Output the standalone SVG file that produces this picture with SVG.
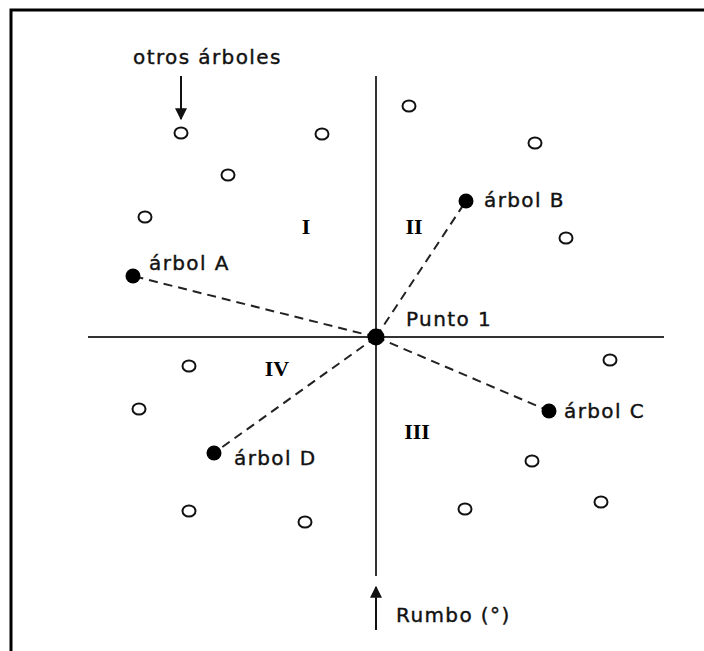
<svg xmlns="http://www.w3.org/2000/svg" width="704" height="651" viewBox="0 0 704 651">
<defs>
<style>
.lbl{font-family:"DejaVu Sans","Liberation Sans",sans-serif;font-size:20px;letter-spacing:1.4px;fill:#111;stroke:#111;stroke-width:0.4}
.rom{font-family:"Liberation Serif","DejaVu Serif",serif;font-size:22px;font-weight:bold;fill:#000}
.axis{stroke:#333;stroke-width:2;fill:none}
.dash{stroke:#222;stroke-width:2;stroke-dasharray:9 6;fill:none}
.other{fill:#fff;stroke:#111;stroke-width:2}
.tree{fill:#000}
</style>
<marker id="ah" viewBox="0 0 10 10" refX="9" refY="5" markerWidth="6" markerHeight="6" orient="auto" markerUnits="strokeWidth">
<path d="M0,0 L10,5 L0,10 z" fill="#111"/>
</marker>
</defs>
<rect width="704" height="651" fill="#fff"/>
<path d="M11,651 L11,10 L704,10" fill="none" stroke="#000" stroke-width="3"/>
<g id="axes">
<line class="axis" x1="376" y1="76" x2="376" y2="576"/>
<line class="axis" x1="88" y1="337" x2="664" y2="337"/>
</g>
<g id="connectors">
<line class="dash" x1="376" y1="337" x2="133" y2="276"/>
<line class="dash" x1="376" y1="337" x2="466" y2="201"/>
<line class="dash" x1="376" y1="337" x2="549" y2="411"/>
<line class="dash" x1="376" y1="337" x2="214" y2="453"/>
<line stroke="#111" stroke-width="2" x1="181" y1="76" x2="181" y2="119" marker-end="url(#ah)"/>
<line stroke="#111" stroke-width="2" x1="376" y1="630" x2="376" y2="587" marker-end="url(#ah)"/>
</g>
<g id="quadrants">
<text class="rom" x="306" y="234" text-anchor="middle">I</text>
<text class="rom" x="414" y="234" text-anchor="middle">II</text>
<text class="rom" x="417" y="439" text-anchor="middle">III</text>
<text class="rom" x="277" y="376" text-anchor="middle">IV</text>
</g>
<g id="others">
<ellipse class="other" cx="181" cy="133" rx="6.5" ry="5.5"/>
<ellipse class="other" cx="322" cy="134" rx="6.5" ry="5.5"/>
<ellipse class="other" cx="228" cy="175" rx="6.5" ry="5.5"/>
<ellipse class="other" cx="145" cy="217" rx="6.5" ry="5.5"/>
<ellipse class="other" cx="409" cy="106" rx="6.5" ry="5.5"/>
<ellipse class="other" cx="535" cy="143" rx="6.5" ry="5.5"/>
<ellipse class="other" cx="566" cy="238" rx="6.5" ry="5.5"/>
<ellipse class="other" cx="189" cy="366" rx="6.5" ry="5.5"/>
<ellipse class="other" cx="139" cy="409" rx="6.5" ry="5.5"/>
<ellipse class="other" cx="610" cy="360" rx="6.5" ry="5.5"/>
<ellipse class="other" cx="532" cy="461" rx="6.5" ry="5.5"/>
<ellipse class="other" cx="601" cy="502" rx="6.5" ry="5.5"/>
<ellipse class="other" cx="465" cy="509" rx="6.5" ry="5.5"/>
<ellipse class="other" cx="189" cy="511" rx="6.5" ry="5.5"/>
<ellipse class="other" cx="305" cy="522" rx="6.5" ry="5.5"/>
</g>
<g id="punto1">
<circle class="tree" cx="376" cy="337" r="8.5"/>
<text class="lbl" x="406" y="326">Punto 1</text>
</g>
<g id="arbolA">
<circle class="tree" cx="133" cy="276" r="7.5"/>
<text class="lbl" x="149" y="270">árbol A</text>
</g>
<g id="arbolB">
<circle class="tree" cx="466" cy="201" r="7.5"/>
<text class="lbl" x="484" y="207">árbol B</text>
</g>
<g id="arbolC">
<circle class="tree" cx="549" cy="411" r="7.5"/>
<text class="lbl" x="564" y="418">árbol C</text>
</g>
<g id="arbolD">
<circle class="tree" cx="214" cy="453" r="7.5"/>
<text class="lbl" x="234" y="465">árbol D</text>
</g>
<g id="labels">
<text class="lbl" x="133" y="64">otros árboles</text>
<text class="lbl" x="396" y="622">Rumbo (°)</text>
</g>
</svg>
